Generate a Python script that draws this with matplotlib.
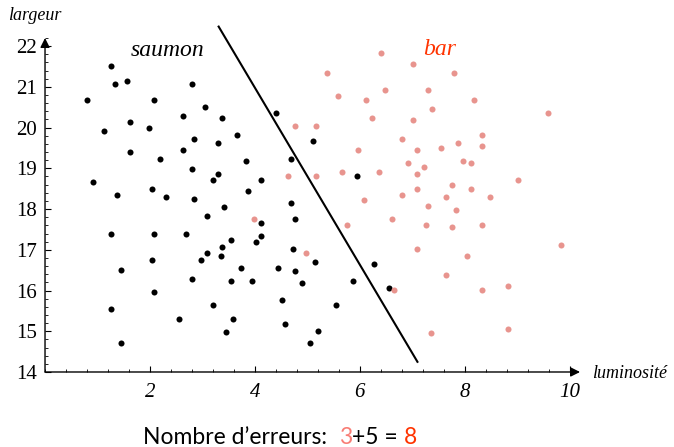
import matplotlib
matplotlib.use("Agg")
import matplotlib.pyplot as plt
from matplotlib.ticker import MultipleLocator

# saumon (points noirs)
saumon_x = [1.25, 1.33, 1.57, 2.81, 0.80, 2.07, 3.05, 2.64, 3.38, 1.62, 1.13, 1.99,
            2.84, 3.30, 1.62, 2.64, 2.19, 2.81, 3.30, 3.21, 0.92, 1.37, 2.03, 2.31,
            2.84, 3.42, 4.40, 3.66, 5.10, 3.83, 4.68, 4.11, 5.95, 3.87, 4.68,
            4.11, 4.77, 4.11, 4.03, 3.54, 3.38, 3.35, 4.73, 5.14, 3.74, 4.44, 4.77,
            6.28, 3.54, 3.95, 4.89, 5.87, 6.56, 4.52, 5.54, 3.58, 4.57, 3.45, 5.21,
            5.05, 3.09, 1.25, 2.07, 2.68, 3.09, 2.97, 2.03, 1.45, 2.81, 2.07, 3.21,
            1.25, 2.56, 1.45]
saumon_y = [21.51, 21.08, 21.14, 21.08, 20.67, 20.67, 20.50, 20.29, 20.24, 20.13, 19.92, 19.98,
            19.72, 19.61, 19.40, 19.45, 19.24, 18.98, 18.87, 18.71, 18.66, 18.35, 18.50, 18.29,
            18.24, 18.04, 20.35, 19.82, 19.66, 19.18, 19.24, 18.71, 18.82, 18.45, 18.14,
            17.65, 17.76, 17.34, 17.18, 17.23, 17.07, 16.86, 17.02, 16.70, 16.55, 16.55, 16.49,
            16.65, 16.24, 16.24, 16.18, 16.24, 16.07, 15.76, 15.65, 15.29, 15.18, 14.97, 15.01,
            14.70, 17.82, 17.39, 17.39, 17.39, 16.92, 16.76, 16.76, 16.50, 16.29, 15.97, 15.65,
            15.55, 15.29, 14.70]

# bar (points roses)
bar_x = [6.41, 5.38, 6.48, 5.58, 6.11, 6.24, 4.77, 5.17, 6.81, 5.96, 6.92, 4.64,
         5.17, 5.67, 6.36, 6.08, 6.81, 7.02, 7.80, 7.31, 8.17, 7.38, 9.59, 7.02,
         8.33, 7.10, 7.55, 7.88, 8.33, 7.22, 7.96, 8.12, 7.10, 7.75, 9.02, 7.10,
         8.12, 7.64, 8.49, 7.31, 7.84, 7.27, 7.75, 8.33, 7.10, 9.84, 8.04, 7.64,
         8.33, 8.82, 7.35, 8.82, 3.99, 4.97, 5.75, 6.61, 6.65]
bar_y = [21.83, 21.35, 20.93, 20.77, 20.67, 20.24, 20.03, 20.03, 19.72, 19.45, 19.13, 18.82,
         18.82, 18.92, 18.92, 18.23, 18.34, 21.56, 21.35, 20.93, 20.67, 20.45, 20.35, 20.19,
         19.82, 19.45, 19.50, 19.61, 19.55, 19.03, 19.18, 19.13, 18.87, 18.60, 18.71, 18.50,
         18.50, 18.29, 18.29, 18.08, 17.98, 17.60, 17.55, 17.60, 17.02, 17.12, 16.86, 16.39,
         16.01, 16.12, 14.96, 15.06, 17.76, 16.92, 17.60, 17.76, 16.01]

# droite de séparation
ligne_x = [3.31, 7.10]
ligne_y = [22.48, 14.25]

x_ticks = [2, 4, 6, 8, 10]
y_ticks = [14, 15, 16, 17, 18, 19, 20, 21, 22]

rose = "#e8948e"
rouge = "#ff3300"
serif = "Liberation Serif"

fig = plt.figure(figsize=(6.74, 4.47), dpi=100)
ax = fig.add_axes([0.0668, 0.1678, 0.7938, 0.7472])
ax.set_xlim(0, 10.2)
ax.set_ylim(14, 22.2)

ax.scatter(saumon_x, saumon_y, s=19, color="black", zorder=3, linewidths=0)
ax.scatter(bar_x, bar_y, s=19, color=rose, zorder=3, linewidths=0)
ax.plot(ligne_x, ligne_y, color="black", lw=1.5, clip_on=False)

for s in ["top", "right", "left", "bottom"]:
    ax.spines[s].set_visible(False)

# axes avec flèches
ax.annotate("", xy=(1.0, 0), xytext=(0, 0), xycoords="axes fraction",
            arrowprops=dict(arrowstyle="-|>", color="black", lw=1.0, mutation_scale=14,
                            shrinkA=0, shrinkB=0))
ax.annotate("", xy=(0, 1.0), xytext=(0, 0), xycoords="axes fraction",
            arrowprops=dict(arrowstyle="-|>", color="black", lw=1.0, mutation_scale=14,
                            shrinkA=0, shrinkB=0))

ax.set_xticks(x_ticks)
ax.set_yticks(y_ticks)
ax.xaxis.set_minor_locator(MultipleLocator(0.4))
ax.yaxis.set_minor_locator(MultipleLocator(0.2))
ax.tick_params(which="major", direction="in", length=4, width=0.8, labelsize=15, pad=8)
ax.tick_params(which="minor", direction="in", length=2.5, width=0.6)
ax.tick_params(axis="y", pad=6)
for lab in ax.get_xticklabels():
    lab.set_fontfamily(serif)
    lab.set_fontstyle("italic")
for lab in ax.get_yticklabels():
    lab.set_fontfamily(serif)

ax.text(2.34, 21.89, "saumon", fontsize=17, family=serif, style="italic",
        ha="center", va="center")
ax.text(7.52, 21.91, "bar", fontsize=17, family=serif, style="italic",
        color=rouge, ha="center", va="center")

fig.text(35 / 674, 1 - 15 / 447, "largeur", fontsize=13, family=serif,
         style="italic", ha="center", va="center")
fig.text(592 / 674, 1 - 374 / 447, "luminosité", fontsize=13, family=serif,
         style="italic", ha="left", va="center")

# texte du bas en plusieurs couleurs
parts = [("Nombre d\u2019erreurs:  ", "black"), ("3", "#f87d75"), ("+5 = ", "black"), ("8", rouge)]
fig.canvas.draw()
renderer = fig.canvas.get_renderer()
x0 = 143
for txt, col in parts:
    t = fig.text(x0 / 674, 1 - 437 / 447, txt, fontsize=16.5, family="Lato",
                 color=col, ha="left", va="center")
    bb = t.get_window_extent(renderer=renderer)
    x0 = bb.x1

fig.savefig("out.png", dpi=100)
